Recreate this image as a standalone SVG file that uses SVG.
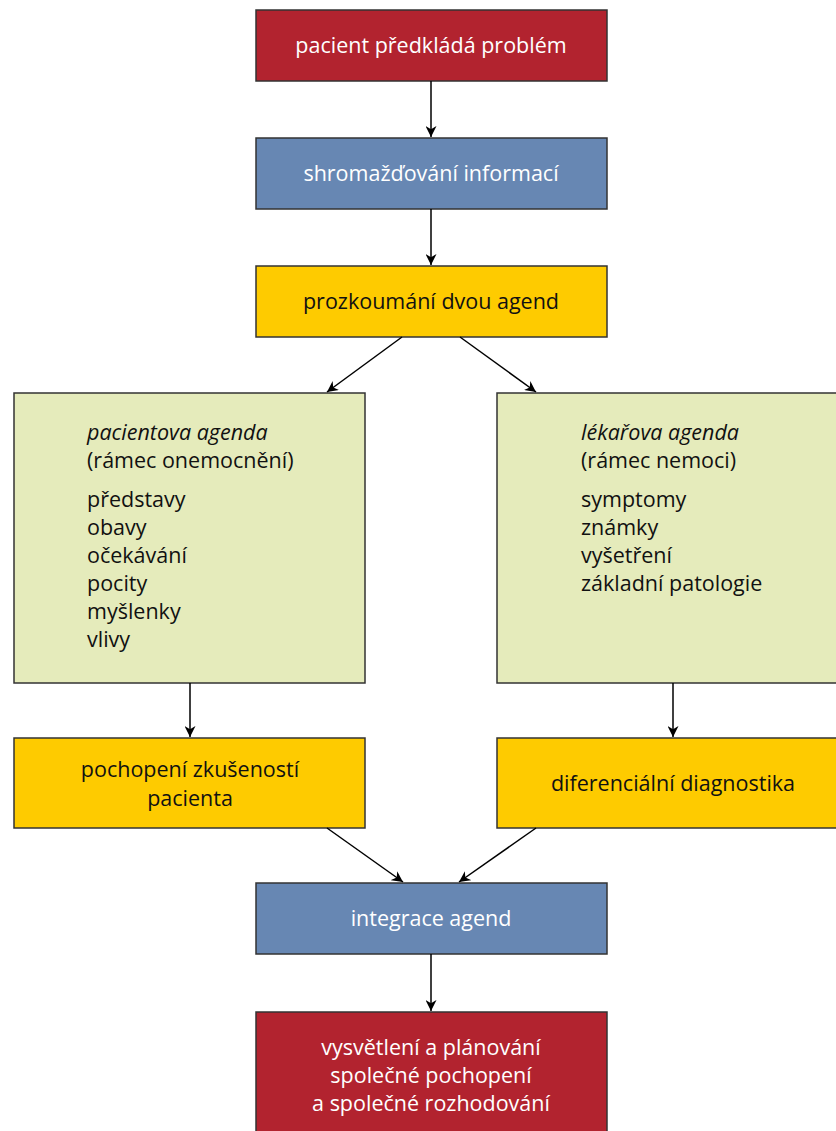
<svg xmlns="http://www.w3.org/2000/svg" width="836" height="1131" viewBox="0 0 836 1131">
<style>
text{font-family:"Open Sans","Noto Sans",sans-serif;font-size:21.5px;}
.box{stroke:#333;stroke-width:1.5;}
.red{fill:#B2232F;}
.blue{fill:#6787B3;}
.yel{fill:#FECB00;}
.grn{fill:#E5EBBB;}
.w{fill:#fff;text-anchor:middle;}
.k{fill:#111;text-anchor:middle;}
.l{fill:#111;}
.it{font-style:italic;}
.c{stroke:#000;stroke-width:1.5;fill:none;marker-end:url(#ah);}
</style>
<defs>
<marker id="ah" viewBox="0 0 10 10" refX="10" refY="5" markerWidth="11" markerHeight="11" markerUnits="userSpaceOnUse" orient="auto">
<path d="M0,0 L10,5 L0,10 L3,5 Z" fill="#000"/>
</marker>
</defs>
<rect width="836" height="1131" fill="#fff"/>
<g id="n1"><rect class="box red" x="256" y="10" width="351" height="71"/><text class="w" x="431" y="53">pacient předkládá problém</text></g>
<g id="n2"><rect class="box blue" x="256" y="138" width="351" height="71"/><text class="w" x="431" y="181">shromažďování informací</text></g>
<g id="n3"><rect class="box yel" x="256" y="266" width="351" height="71"/><text class="k" x="431" y="309">prozkoumání dvou agend</text></g>
<g id="n4"><rect class="box grn" x="14" y="393" width="351" height="290"/>
<text class="l" x="87" y="440"><tspan class="it">pacientova agenda</tspan><tspan x="87" y="468">(rámec onemocnění)</tspan><tspan x="87" y="507">představy</tspan><tspan x="87" y="535">obavy</tspan><tspan x="87" y="563">očekávání</tspan><tspan x="87" y="591">pocity</tspan><tspan x="87" y="619">myšlenky</tspan><tspan x="87" y="647">vlivy</tspan></text></g>
<g id="n5"><rect class="box grn" x="497" y="393" width="345" height="290"/>
<text class="l" x="581" y="440"><tspan class="it">lékařova agenda</tspan><tspan x="581" y="468">(rámec nemoci)</tspan><tspan x="581" y="507">symptomy</tspan><tspan x="581" y="535">známky</tspan><tspan x="581" y="563">vyšetření</tspan><tspan x="581" y="591">základní patologie</tspan></text></g>
<g id="n6"><rect class="box yel" x="14" y="738" width="351" height="90"/><text class="k" x="190" y="777">pochopení zkušeností<tspan x="190" y="806">pacienta</tspan></text></g>
<g id="n7"><rect class="box yel" x="497" y="738" width="345" height="90"/><text class="k" x="673" y="791">diferenciální diagnostika</text></g>
<g id="n8"><rect class="box blue" x="256" y="883" width="351" height="71"/><text class="w" x="431" y="926">integrace agend</text></g>
<g id="n9"><rect class="box red" x="256" y="1012" width="351" height="125"/><text class="w" x="431" y="1055">vysvětlení a plánování<tspan x="431" y="1083">společné pochopení</tspan><tspan x="431" y="1111">a společné rozhodování</tspan></text></g>
<g id="connectors">
<line class="c" x1="431" y1="81" x2="431" y2="137"/>
<line class="c" x1="431" y1="209" x2="431" y2="265"/>
<line class="c" x1="402" y1="337" x2="327" y2="392"/>
<line class="c" x1="460" y1="337" x2="536" y2="392"/>
<line class="c" x1="190" y1="683" x2="190" y2="737"/>
<line class="c" x1="673" y1="683" x2="673" y2="737"/>
<line class="c" x1="327" y1="828" x2="403" y2="882"/>
<line class="c" x1="536" y1="828" x2="459" y2="882"/>
<line class="c" x1="431" y1="954" x2="431" y2="1011"/>
</g>
</svg>
